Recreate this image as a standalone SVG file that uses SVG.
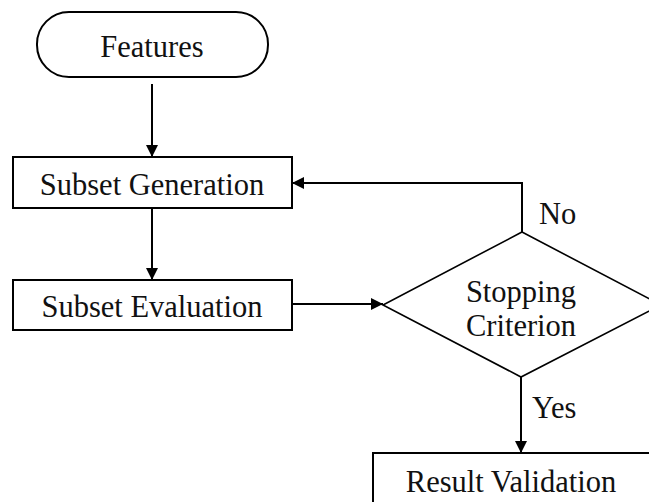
<svg xmlns="http://www.w3.org/2000/svg" width="649" height="502" viewBox="0 0 649 502">
<defs>
<style>
.n{fill:#fff;stroke:#000;stroke-width:2}
.d{fill:#fff;stroke:#000;stroke-width:1.6}
.t{font-family:"Liberation Serif","Times New Roman",serif;font-size:30.5px;fill:#111;text-anchor:middle}
.l{font-family:"Liberation Serif","Times New Roman",serif;font-size:30.5px;fill:#111}
.c{fill:none;stroke:#000;stroke-width:2}
</style>
<marker id="ah" markerWidth="12" markerHeight="12" viewBox="0 0 12 12" refX="12" refY="6" orient="auto" markerUnits="userSpaceOnUse">
<path d="M0,0 L12,6 L0,12 Z" fill="#000"/>
</marker>
</defs>
<g id="connectors">
<line class="c" x1="152" y1="84" x2="152" y2="157" marker-end="url(#ah)"/>
<line class="c" x1="152" y1="208" x2="152" y2="280" marker-end="url(#ah)"/>
<line class="c" x1="292" y1="304" x2="383" y2="304" marker-end="url(#ah)"/>
<polyline class="c" points="522,232 522,183 292,183" marker-end="url(#ah)"/>
<line class="c" x1="521" y1="377" x2="521" y2="453" marker-end="url(#ah)"/>
<text class="l" x="539" y="224">No</text>
<text class="l" x="532" y="418">Yes</text>
</g>
<g id="features">
<rect class="n" x="37" y="12" width="231" height="65" rx="32" ry="32"/>
<text class="t" x="152" y="57">Features</text>
</g>
<g id="subset-generation">
<rect class="n" x="13" y="157" width="279" height="51"/>
<text class="t" x="152" y="195">Subset Generation</text>
</g>
<g id="subset-evaluation">
<rect class="n" x="13" y="280" width="279" height="50"/>
<text class="t" x="152" y="317">Subset Evaluation</text>
</g>
<g id="stopping-criterion">
<polygon class="d" points="522,232 661,305 521,377 383,305"/>
<text class="t" x="521" y="302">Stopping</text>
<text class="t" x="521" y="336">Criterion</text>
</g>
<g id="result-validation">
<rect class="n" x="373" y="453" width="300" height="70"/>
<text class="t" x="511" y="492">Result Validation</text>
</g>
</svg>
